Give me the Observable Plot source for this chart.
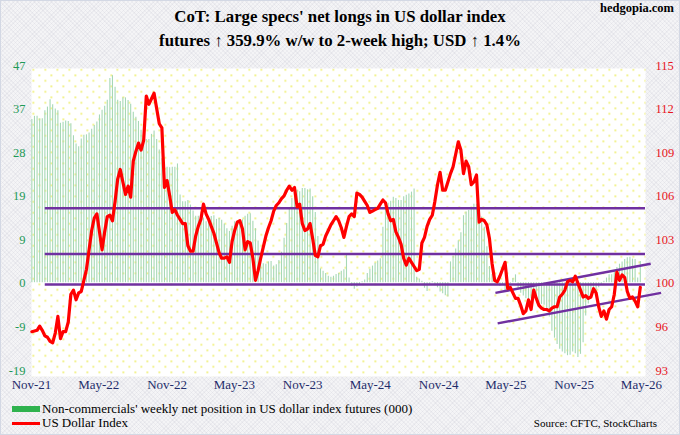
<!DOCTYPE html>
<html>
<head>
<meta charset="utf-8">
<script src="https://cdn.jsdelivr.net/npm/d3@7"></script>
<script src="https://cdn.jsdelivr.net/npm/@observablehq/plot@0.6"></script>
<style>
  body { margin: 0; }
  #page {
    position: relative; width: 680px; height: 435px; overflow: hidden;
    background-color: #f4f4f6;
    background-image:
      repeating-linear-gradient(45deg, rgba(120,120,150,.07) 0 1px, transparent 1px 3px),
      repeating-linear-gradient(-45deg, rgba(120,120,150,.07) 0 1px, transparent 1px 3px);
    box-shadow: inset 0 0 0 1px #d3d8e4;
    font-family: "Liberation Serif", "Times New Roman", serif;
  }
  #site { position: absolute; right: 6px; top: 1px; font-weight: bold; font-size: 12.5px; }
  #title { position: absolute; left: 0; top: 5px; width: 680px; text-align: center;
           font-weight: bold; font-size: 16.8px; line-height: 24px; }
  .chart { position: absolute; left: 0; top: 50px; }
  #legend { position: absolute; left: 12px; top: 402px; font-size: 13px; line-height: 14px; }
  #legend .row { display: flex; align-items: center; white-space: nowrap; }
  #legend .sw { width: 28px; margin-right: 2px; }
  #source { position: absolute; right: 23px; top: 417px; font-size: 11px; }
</style>
</head>
<body>
<div id="page">
  <div id="site">hedgopia.com</div>
  <div id="title">CoT: Large specs' net longs in US dollar index<br>futures ↑ 359.9% w/w to 2-week high; USD ↑ 1.4%</div>
  <div id="chart1" class="chart"></div>
  <div id="chart2" class="chart"></div>
  <div id="legend">
    <div class="row"><span class="sw" style="height:6px;background:#2fb24e"></span>Non-commercials' weekly net position in US dollar index futures (000)</div>
    <div class="row"><span class="sw" style="height:3px;background:#ff0000"></span>US Dollar Index</div>
  </div>
  <div id="source">Source: CFTC, StockCharts</div>
</div>
<script>
// weekly CoT reports, first one 2021-11-02
const firstWeek = "2021-11-02"

// non-commercials' net position, thousands of contracts
const netLongs = [
  35.3, 36, 36, 35.4, 35.5, 37.2, 38, 39.6, 38.5, 37.6,
  37.2, 34.5, 34.7, 35, 34.9, 34.4, 31.8, 30, 29.4, 31.1,
  31.9, 32, 32.4, 33.2, 34, 34.8, 36.3, 37.3, 38.2, 39.5,
  44.2, 44.8, 42.3, 39.5, 39.2, 40, 40, 39.4, 38.6, 36.9,
  35.8, 34.9, 33, 31.9, 31, 31, 32.1, 32.8, 31, 28.7,
  26.8, 26, 25, 24.9, 25, 25, 25.7, 19, 17.5, 17.5,
  17.8, 16.8, 15.5, 14.4, 14.4, 14.5, 14, 13.2, 13.6, 14.3,
  14.5, 13.7, 13.9, 13.5, 12.7, 11.7, 11.1, 12.2, 13.2, 13.4,
  12.6, 13.6, 14.4, 14.8, 14.9, 13.3, 11.7, 9, 5.7, 4.1,
  4, 4.5, 4.6, 3.6, 3.9, 4.8, 6.6, 9.6, 12.8, 16,
  18.2, 19.3, 20, 19.7, 20.4, 20.4, 20.1, 20.3, 18.6, 15.2,
  10, 3, 2.5, 2, 1.4, 1.2, 1.4, 1.8, 2, 2.5,
  2.8, 6, 1, -0.8, -1.4, -1, -0.5, 0.2, 0.6, 2,
  2.9, 3.6, 4.2, 4.7, 5.2, 12, 16, 17.2, 17.6, 18.5,
  18.2, 17.8, 17.8, 18.6, 18.9, 19.2, 19.6, 20.3, 1.2, 0.8,
  0.3, -1.2, -1.9, -0.4, 0.2, -0.5, -1.1, -2, -2.4, -2.8,
  -3.1, 4.5, 5.7, 7.3, 9.1, 10.8, 14.5, 15.3, 15.6, 16.2,
  17, 17, 15.5, 14.2, 12, 7.8, 3.5, 1.8, 0.4, -0.6,
  -0.8, -0.6, -1.8, -1.4, -0.2, 0.9, 1.7, -1.5, -2.3, -2.9,
  -3.5, -4.2, -3.5, -3.2, -3.7, -4.3, -4.7, -4.9, -5.8, -7.4,
  -10.5, -12, -13.4, -14.4, -15, -15.4, -15.8, -15.7, -15, -15.4,
  -16.2, -15.5, -13, -7.2, -4.6, -3.2, -2.4, -1.9, -1.1, -0.4,
  0.3, 1, 1.7, 1.7, 2.4, 3.3, 4, 4.5, 5, 5.4,
  5.5, 5.1, 5.0, 1.0, 4.6
]

// US dollar index, same weeks
const usd = [
  96.1, 96.15, 96.2, 96.5, 96.2, 95.8, 95.7, 95.4, 95.3, 96.0,
  97.2, 95.6, 96.1, 96.1, 96.8, 98.8, 99.1, 98.4, 98.9, 99.0,
  99.8, 100.6, 102.0, 103.4, 104.3, 104.6, 103.3, 102.0, 103.3, 104.4,
  104.5, 104.1, 105.5, 107.1, 107.8, 106.9, 106.0, 106.6, 105.8, 108.4,
  109.1, 109.7, 109.2, 109.9, 113.1, 112.5, 112.9, 113.3, 112.2, 111.1,
  110.8, 106.5, 107.0, 105.9, 104.7, 104.9, 104.5, 104.2, 103.9, 103.9,
  102.3, 101.9, 101.9, 103.0, 103.7, 104.2, 105.3, 104.6, 104.2, 103.7,
  103.2, 102.5, 101.8, 101.4, 101.4, 101.5, 101.1, 102.6, 103.4, 104.0,
  104.1, 103.5, 102.0, 102.6, 102.5, 101.4, 99.8, 100.5, 101.4, 102.2,
  103.0, 103.6, 104.1, 104.8, 105.2, 105.4, 105.7, 105.9, 106.3, 106.6,
  106.3, 106.5, 105.1, 105.3, 103.9, 103.4, 103.5, 103.9, 102.8, 101.6,
  101.5, 102.3, 102.4, 103.0, 103.4, 103.8, 104.1, 104.4, 104.1, 103.6,
  102.9, 103.7, 104.4, 104.6, 104.4, 106.1, 106.0, 105.8, 105.5, 105.2,
  104.7, 104.8, 104.9, 105.0, 105.3, 105.6, 105.4, 104.6, 104.1, 104.2,
  103.3, 102.9, 102.4, 101.4, 100.9, 101.4, 101.1, 100.8, 100.5, 100.6,
  102.5, 102.9, 103.7, 104.2, 104.5, 105.5, 106.7, 107.6, 106.3, 106.3,
  106.9, 107.5, 108.0, 108.9, 109.8, 109.2, 107.5, 108.4, 108.0, 106.7,
  106.9, 107.4, 104.0, 104.2, 104.1, 103.8, 102.8, 101.0, 99.8, 99.7,
  100.1, 100.6, 101.1, 99.2, 99.3, 98.9, 98.5, 98.5, 98.0, 97.4,
  97.6, 98.4, 97.7, 99.1, 98.5, 98.0, 97.8, 97.7, 97.7, 97.6,
  97.8, 97.9, 97.9, 98.6, 98.8, 99.1, 99.7, 99.8, 99.7, 100.1,
  99.6, 99.1, 98.6, 98.7, 98.5, 98.6, 99.2, 98.9, 97.9, 97.2,
  97.6, 97.0, 97.7, 97.9, 98.8, 100.4, 99.8, 100.2, 100.0, 99.0,
  98.5, 98.6, 98.3, 97.9, 99.3
]

// horizontal support/resistance lines on the USD (right) scale
const levels = [105.0, 101.7, 99.5]
const levelSpan = ["2021-12-08", "2026-05-12"]

// rising channel on the USD
const channelStart = ["2025-04-03", "2025-04-09"]
const channelStartUsd = [98.9, 96.7]
const channelEnd = ["2026-05-26", "2026-06-23"]
const channelEndUsd = [101.0, 98.9]

const xTickDates = ["2021-11-01", "2022-05-01", "2022-11-01", "2023-05-01", "2023-11-01",
  "2024-05-01", "2024-11-01", "2025-05-01", "2025-11-01", "2026-05-01"]
const leftTickLabels = ["-19", "-9", "0", "9", "19", "28", "37", "47"]
const rightTickLabels = ["93", "96", "100", "103", "106", "109", "112", "115"]

const leftDomain = [-19, 47]
const rightDomain = [93.3, 115.3]
const xDomain = [new Date("2021-11-01"), new Date("2026-05-12")]

const start = new Date(firstWeek)
const rows = netLongs.map((v, i) => ({date: d3.utcDay.offset(start, 7 * i), net: v, usd: usd[i]}))

const step = (dom) => (dom[1] - dom[0]) / 7
const leftTicks = leftTickLabels.map((_, k) => leftDomain[0] + k * step(leftDomain))
const rightTicks = rightTickLabels.map((_, k) => rightDomain[0] + k * step(rightDomain))

const channels = channelStart.map((d, i) => ({
  x1: new Date(d), y1: channelStartUsd[i], x2: new Date(channelEnd[i]), y2: channelEndUsd[i]
}))

const common = {
  width: 680, height: 345,
  marginLeft: 31, marginRight: 35, marginTop: 15, marginBottom: 25,
  style: {background: "transparent", fontFamily: "Liberation Serif, Times New Roman, serif", fontSize: "12.5px", overflow: "visible"}
}

const chart1 = Plot.plot({
  ...common,
  x: {type: "utc", domain: xDomain, ticks: xTickDates.map(d => new Date(d)),
      tickFormat: d3.utcFormat("%b-%y"), tickSize: 0, tickPadding: 9, label: null},
  y: {domain: leftDomain, ticks: leftTicks,
      tickFormat: d => leftTickLabels[Math.round((d - leftDomain[0]) / step(leftDomain))],
      tickSize: 0, tickPadding: 6, label: null},
  marks: [
    Plot.frame({fill: "white", stroke: "none", insetTop: 3, insetBottom: -6}),
    Plot.frame({fill: "url(#dots)", stroke: "none", insetTop: 3, insetBottom: -6}),
    Plot.ruleX(rows, {x: "date", y1: 0, y2: "net", stroke: "#a6d8b5", strokeWidth: 1.1})
  ]
})

const chart2 = Plot.plot({
  ...common,
  x: {type: "utc", domain: xDomain, axis: null},
  y: {domain: rightDomain, axis: "right", ticks: rightTicks,
      tickFormat: d => rightTickLabels[Math.round((d - rightDomain[0]) / step(rightDomain))],
      tickSize: 0, tickPadding: 10, label: null},
  marks: [
    Plot.ruleY(levels, {y: d => d, x1: () => new Date(levelSpan[0]), x2: () => new Date(levelSpan[1]),
      stroke: "#7030a0", strokeWidth: 2.5}),
    Plot.link(channels, {x1: "x1", y1: "y1", x2: "x2", y2: "y2", stroke: "#7030a0", strokeWidth: 2.5}),
    Plot.line(rows, {x: "date", y: "usd", stroke: "#ff0000", strokeWidth: 3.2, strokeLinejoin: "round"})
  ]
})

// yellow dotted plot background
const pat = d3.select(chart1).insert("defs", ":first-child")
  .append("pattern").attr("id", "dots").attr("patternUnits", "userSpaceOnUse")
  .attr("width", 12).attr("height", 11)
pat.append("rect").attr("x", 2).attr("y", 2).attr("width", 1.6).attr("height", 1.6).attr("fill", "#ecec55")
pat.append("rect").attr("x", 8).attr("y", 7.5).attr("width", 1.6).attr("height", 1.6).attr("fill", "#ecec55")

d3.select(chart1).selectAll('[aria-label^="y-axis"] text').attr("fill", "#1e9a57")
d3.select(chart1).selectAll('[aria-label^="x-axis"] text').attr("fill", "#1f2d6b").style("font-size", "13px")
d3.select(chart2).selectAll('[aria-label^="y-axis"] text').attr("fill", "#e8141c")

d3.select('#chart1').append(() => chart1)
d3.select('#chart2').append(() => chart2)
</script>
</body>
</html>
